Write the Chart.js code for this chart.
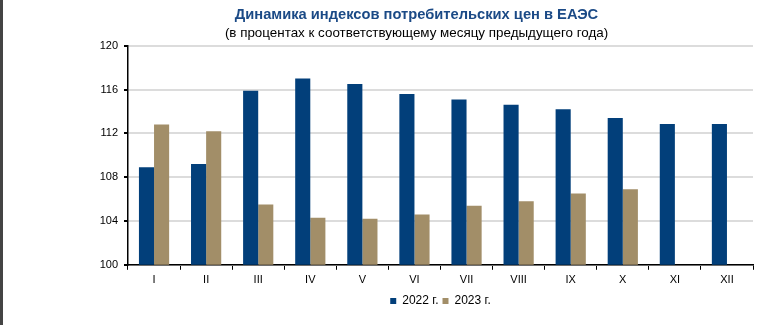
<!DOCTYPE html>
<html><head><meta charset="utf-8">
<script src="https://cdn.jsdelivr.net/npm/chart.js@4"></script>
<style>
html,body{margin:0;padding:0;background:#fff;}
#wrap{position:relative;width:783px;height:325px;}
#edge{position:absolute;left:0;top:0;width:3px;height:325px;background:#444;}
</style></head>
<body><div id="wrap"><div id="edge"></div><canvas id="c" width="783" height="325"></canvas></div>
<script>
const categories = ['I','II','III','IV','V','VI','VII','VIII','IX','X','XI','XII'];
const series2022 = [108.9,109.2,115.9,117.0,116.5,115.6,115.1,114.6,114.2,113.4,112.85,112.85];
const series2023 = [112.8,112.2,105.5,104.3,104.2,104.6,105.4,105.8,106.5,106.9,null,null];
const seriesNames = ['2022 г.','2023 г.'];
const yTicks = [100,104,108,112,116,120];

Chart.defaults.font.family = '"Liberation Sans", Arial, sans-serif';
Chart.defaults.color = '#000';

const shiftTitles = {
  id: 'shiftTitles',
  afterLayout(chart) {
    chart.boxes.forEach(b => {
      if (b.options && typeof b.options.text === 'string' && b.options.text.length) {
        b.left += 40; b.right += 40;
      }
    });
  }
};

new Chart(document.getElementById('c'), {
  type: 'bar',
  data: {
    labels: categories,
    datasets: [
      {label: seriesNames[0], data: series2022, backgroundColor: '#023f7a', categoryPercentage: 0.58, barPercentage: 1.0},
      {label: seriesNames[1], data: series2023, backgroundColor: '#a28e68', categoryPercentage: 0.58, barPercentage: 1.0}
    ]
  },
  plugins: [shiftTitles],
  options: {
    responsive: false,
    animation: false,
    layout: {padding: {left: 0, right: 30, top: 4, bottom: 8}},
    plugins: {
      title: {display: true, text: 'Динамика индексов потребительских цен в ЕАЭС', color: '#1b4a86',
        font: {size: 14.7, weight: 'bold'}, padding: {top: 2, bottom: 2}},
      subtitle: {display: true, text: '(в процентах к соответствующему месяцу предыдущего года)', color: '#000',
        font: {size: 13.4}, padding: {top: 0, bottom: 4}},
      legend: {position: 'bottom', fullSize: false, labels: {boxWidth: 6, boxHeight: 6, font: {size: 12}, padding: 4}},
      tooltip: {enabled: false}
    },
    scales: {
      x: {
        grid: {display: true, drawOnChartArea: false, drawTicks: true, tickLength: 5, tickColor: '#000', offset: true},
        border: {display: true, color: '#000', width: 1.5},
        ticks: {font: {size: 11}, padding: 4}
      },
      y: {
        min: 100, max: 120,
        afterBuildTicks: (s) => { s.ticks = yTicks.map(v => ({value: v})); },
        afterFit: (s) => { s.width = 128; },
        grid: {color: '#dcdcdc', lineWidth: 2, tickColor: '#000', tickLength: 4},
        border: {display: true, color: '#000', width: 1.5},
        ticks: {font: {size: 11}, padding: 6}
      }
    }
  }
});
</script></body></html>
